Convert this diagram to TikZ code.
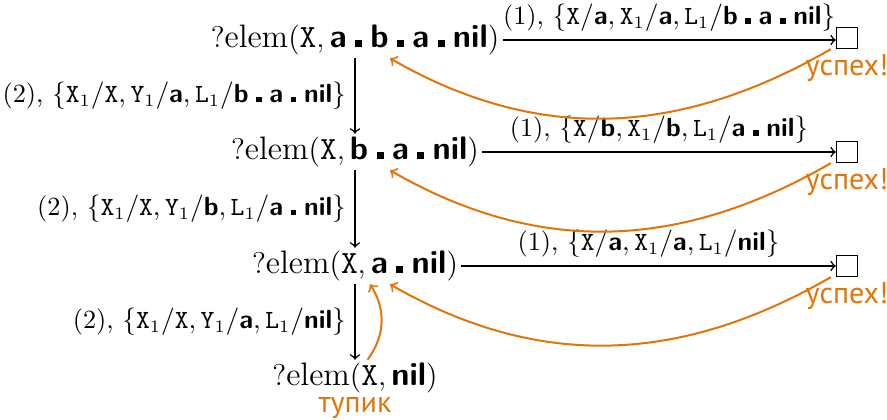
\documentclass[tikz,border=0pt]{standalone}
\usepackage{fontspec}
\newfontfamily\cyrfont{PT Sans}
\usetikzlibrary{positioning}

\definecolor{tuorange}{RGB}{226,116,12}

\newcommand\cnst[1]{\textsf{\bfseries #1}}
\newcommand\cons{\mskip5mu\rule[0.05ex]{0.5ex}{0.5ex}\mskip5mu}
\newcommand\vx{\mathtt{X}}

\tikzset{
  goal/.style={font=\fontsize{13}{16}\selectfont, inner sep=1pt},
  subst/.style={font=\fontsize{10.5}{13}\selectfont},
  done/.style={draw, thin, minimum size=8.5pt, inner sep=0pt},
  note/.style={tuorange, font=\cyrfont\large, inner sep=1pt},
  back/.style={tuorange, thick, ->},
}

\begin{document}
\begin{tikzpicture}[x=0.4pt, y=0.4pt, semithick]
  \useasboundingbox (0,0) rectangle (887,-420);

  % goals
  \node[goal] (n1) at (355,-40)  {$?\mathrm{elem}(\vx, \cnst{a}\cons\cnst{b}\cons\cnst{a}\cons\cnst{nil})$};
  \node[goal] (n2) at (355,-152) {$?\mathrm{elem}(\vx, \cnst{b}\cons\cnst{a}\cons\cnst{nil})$};
  \node[goal] (n3) at (355,-266) {$?\mathrm{elem}(\vx, \cnst{a}\cons\cnst{nil})$};
  \node[goal] (n4) at (355,-378) {$?\mathrm{elem}(\vx, \cnst{nil})$};

  % empty goals
  \node[done] (s1) at (847,-38)  {};
  \node[done] (s2) at (847,-152) {};
  \node[done] (s3) at (847,-266) {};

  % rule (1)
  \draw[->] (n1.east) -- (n1.east -| s1.west)
    node[midway, above, subst] {(1),~$\{\vx/\cnst{a}, \vx_1/\cnst{a}, \mathtt{L}_1/\cnst{b}\cons\cnst{a}\cons\cnst{nil}\}$};
  \draw[->] (n2.east) -- (n2.east -| s2.west)
    node[midway, above, subst] {(1),~$\{\vx/\cnst{b}, \vx_1/\cnst{b}, \mathtt{L}_1/\cnst{a}\cons\cnst{nil}\}$};
  \draw[->] (n3.east) -- (n3.east -| s3.west)
    node[midway, above, subst] {(1),~$\{\vx/\cnst{a}, \vx_1/\cnst{a}, \mathtt{L}_1/\cnst{nil}\}$};

  % rule (2)
  \draw[->] (n1) -- (n2)
    node[midway, left, subst] {(2),~$\{\vx_1/\vx, \mathtt{Y}_1/\cnst{a}, \mathtt{L}_1/\cnst{b}\cons\cnst{a}\cons\cnst{nil}\}$};
  \draw[->] (n2) -- (n3)
    node[midway, left, subst] {(2),~$\{\vx_1/\vx, \mathtt{Y}_1/\cnst{b}, \mathtt{L}_1/\cnst{a}\cons\cnst{nil}\}$};
  \draw[->] (n3) -- (n4)
    node[midway, left, subst] {(2),~$\{\vx_1/\vx, \mathtt{Y}_1/\cnst{a}, \mathtt{L}_1/\cnst{nil}\}$};

  % backtracking
  \node[note, below=1pt of s1] (ok1) {успех!};
  \node[note, below=1pt of s2] (ok2) {успех!};
  \node[note, below=1pt of s3] (ok3) {успех!};
  \node[note, below=-1pt of n4] (fail) {тупик};

  \draw[back] ([xshift=-2pt]s1.south west) to[out=-150, in=-30] ([xshift=14pt]n1.south);
  \draw[back] ([xshift=-2pt]s2.south west) to[out=-150, in=-30] ([xshift=14pt]n2.south);
  \draw[back] ([xshift=-2pt]s3.south west) to[out=-150, in=-30] ([xshift=14pt]n3.south);
  \draw[back] ([xshift=5pt]n4.north) to[bend right=35] ([xshift=6pt]n3.south);
\end{tikzpicture}
\end{document}
